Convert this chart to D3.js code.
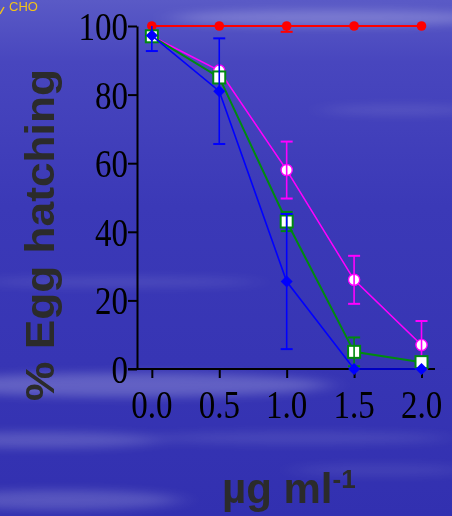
<!DOCTYPE html>
<html>
<head>
<meta charset="utf-8">
<script src="https://cdn.jsdelivr.net/npm/d3@7"></script>
<style>
  html, body { margin: 0; padding: 0; background: #3836b6; }
  svg { display: block; }
</style>
</head>
<body>
<svg id="chart" width="452" height="516"></svg>
<script>
// Egg hatching (%) against concentration (µg/ml)
const doses = [0, 0.5, 1.0, 1.5, 2.0];
const doseLabels = ["0.0", "0.5", "1.0", "1.5", "2.0"];
const yTicks = [0, 20, 40, 60, 80, 100];

const controlMean = [100, 100, 100, 100, 100];
const controlErr  = [0, 0, 1.7, 0, 0];
const circleMean  = [97, 87, 58, 26, 7];
const circleErr   = [0, 0, 8.3, 7, 7];
const squareMean  = [97, 85, 43, 5, 2];
const squareErr   = [0, 0, 2.8, 4.2, 0];
const diamondMean = [97.2, 81, 25.5, 0, 0];
const diamondErr  = [4.5, 15.4, 19.7, 0, 0];

const svg = d3.select("#chart");
const W = 452, H = 516;

// ---- background: blue slide with soft horizontal streaks ----
const defs = svg.append("defs");
const bg = defs.append("linearGradient").attr("id", "bg").attr("x1", 0).attr("y1", 0).attr("x2", 0).attr("y2", 1);
[[0, "#5a5ac6"], [0.12, "#4846be"], [0.4, "#3b39b7"], [0.7, "#3735b4"], [1, "#3230b0"]]
  .forEach(([o, c]) => bg.append("stop").attr("offset", o).attr("stop-color", c));
svg.append("rect").attr("width", W).attr("height", H).attr("fill", "url(#bg)");

defs.append("filter").attr("id", "soft").attr("x", "-50%").attr("y", "-200%").attr("width", "200%").attr("height", "500%")
  .append("feGaussianBlur").attr("stdDeviation", "14 5");
const streaks = [
  [330, 18, 160, 8, 0.22], [400, 110, 80, 5, 0.10], [120, 282, 140, 5, 0.10],
  [130, 385, 200, 12, 0.22], [40, 440, 120, 8, 0.18], [300, 438, 150, 6, 0.10],
  [60, 500, 120, 10, 0.18], [380, 470, 90, 6, 0.08]
];
svg.append("g").attr("filter", "url(#soft)")
  .selectAll("ellipse").data(streaks).join("ellipse")
  .attr("cx", d => d[0]).attr("cy", d => d[1]).attr("rx", d => d[2]).attr("ry", d => d[3])
  .attr("fill", "#ffffff").attr("opacity", d => d[4]);

// fragment of the slide's structure drawing in the corner
svg.append("text").attr("x", 9).attr("y", 11)
  .attr("font-family", "Liberation Sans, Arial, sans-serif").attr("font-size", 13)
  .attr("fill", "#f2c21a").text("CHO");
svg.append("line").attr("x1", 0).attr("y1", 14).attr("x2", 4).attr("y2", 7)
  .attr("stroke", "#f2c21a").attr("stroke-width", 1.5);

// ---- scales ----
const x = d3.scaleLinear().domain([-0.11, 2.1]).range([137, 435]);
const y = d3.scaleLinear().domain([0, 100]).range([369, 26]);

// ---- axes ----
const yAxis = svg.append("g").attr("transform", `translate(${x(-0.11)},0)`)
  .call(d3.axisLeft(y).tickValues(yTicks).tickSize(9).tickSizeOuter(0).tickFormat(""));
const xAxis = svg.append("g").attr("transform", `translate(0,${y(0)})`)
  .call(d3.axisBottom(x).tickValues(doses).tickSize(9).tickSizeOuter(0).tickFormat(""));
[yAxis, xAxis].forEach(g => {
  g.selectAll("path, line").attr("stroke", "#000").attr("stroke-width", 2);
});
xAxis.select("path.domain").attr("d", `M${x(-0.11) - 9},0H${x(2.1)}`);

const serif = "Liberation Serif, 'Times New Roman', serif";
svg.append("g").selectAll("text").data(yTicks).join("text")
  .attr("transform", d => `translate(128,${y(d)}) scale(1,1.24)`)
  .attr("text-anchor", "end").attr("dy", "0.34em")
  .attr("font-family", serif).attr("font-size", 33).attr("fill", "#000")
  .text(d => d);
svg.append("g").selectAll("text").data(doses).join("text")
  .attr("transform", d => `translate(${x(d)},404) scale(1,1.24)`)
  .attr("text-anchor", "middle").attr("dy", "0.34em")
  .attr("font-family", serif).attr("font-size", 33).attr("fill", "#000")
  .text((d, i) => doseLabels[i]);

// ---- axis titles ----
const sans = "Liberation Sans, Arial, sans-serif";
svg.append("text")
  .attr("transform", "translate(54,235) rotate(-90)")
  .attr("text-anchor", "middle")
  .attr("font-family", sans).attr("font-weight", "bold").attr("font-size", 40)
  .attr("textLength", 332).attr("lengthAdjust", "spacingAndGlyphs")
  .attr("fill", "#2b2b2b").text("% Egg hatching");
const xt = svg.append("text").attr("x", 222).attr("y", 503)
  .attr("font-family", sans).attr("font-weight", "bold").attr("font-size", 42)
  .attr("fill", "#2b2b2b");
xt.append("tspan").text("µg ml");
xt.append("tspan").attr("font-size", 26).attr("dy", -15).text("-1");

// ---- series ----
const series = [
  { mean: controlMean, err: controlErr, color: "#ff0000", lw: 1.8, shape: "dot" },
  { mean: circleMean, err: circleErr, color: "#ff00ff", lw: 1.6, shape: "circle" },
  { mean: squareMean, err: squareErr, color: "#008a10", lw: 2, shape: "square" },
  { mean: diamondMean, err: diamondErr, color: "#0000ff", lw: 1.6, shape: "diamond" }
];
const clampY = v => Math.max(0, Math.min(100, v));
const capW = 6;

series.forEach(s => {
  const g = svg.append("g");
  const pts = doses.map((d, i) => ({ d, m: s.mean[i], e: s.err[i] }));
  g.append("path").datum(pts)
    .attr("d", d3.line().x(p => x(p.d)).y(p => y(p.m)))
    .attr("fill", "none").attr("stroke", s.color).attr("stroke-width", s.lw);

  // markers
  const mk = g.selectAll(".mk").data(pts).join("g").attr("transform", p => `translate(${x(p.d)},${y(p.m)})`);
  if (s.shape === "dot") {
    mk.append("circle").attr("r", 4.8).attr("fill", s.color);
  } else if (s.shape === "circle") {
    mk.append("circle").attr("r", 5.6).attr("fill", "#fff").attr("stroke", s.color).attr("stroke-width", 1.4);
  } else if (s.shape === "square") {
    mk.append("rect").attr("x", -6).attr("y", -6).attr("width", 12).attr("height", 12)
      .attr("fill", "#fff").attr("stroke", s.color).attr("stroke-width", 2);
  } else {
    mk.append("path").attr("d", "M0,-6L6,0L0,6L-6,0Z").attr("fill", s.color);
  }

  // error bars (clipped to the 0–100 range)
  const eb = g.selectAll(".eb").data(pts.filter(p => p.e > 0)).join("g");
  eb.append("line")
    .attr("x1", p => x(p.d)).attr("x2", p => x(p.d))
    .attr("y1", p => y(clampY(p.m + p.e))).attr("y2", p => y(clampY(p.m - p.e)))
    .attr("stroke", s.color).attr("stroke-width", 1.6);
  eb.filter(p => p.m + p.e <= 100).append("line")
    .attr("x1", p => x(p.d) - capW).attr("x2", p => x(p.d) + capW)
    .attr("y1", p => y(p.m + p.e)).attr("y2", p => y(p.m + p.e))
    .attr("stroke", s.color).attr("stroke-width", 2);
  eb.filter(p => p.m - p.e >= 0).append("line")
    .attr("x1", p => x(p.d) - capW).attr("x2", p => x(p.d) + capW)
    .attr("y1", p => y(p.m - p.e)).attr("y2", p => y(p.m - p.e))
    .attr("stroke", s.color).attr("stroke-width", 2);
});
</script>
</body>
</html>
